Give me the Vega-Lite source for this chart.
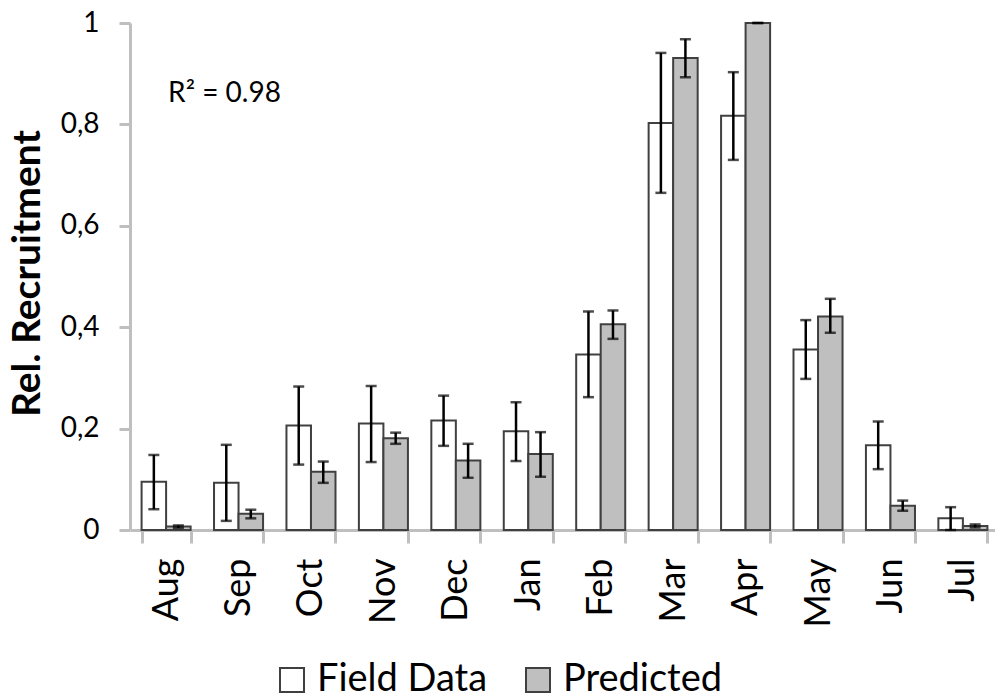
{
  "$schema": "https://vega.github.io/schema/vega-lite/v6.json",
  "autosize": "none",
  "width": 869,
  "height": 507,
  "padding": {"left": 130, "top": 23, "right": 0, "bottom": 168},
  "background": "white",
  "config": {
    "view": {"stroke": null},
    "font": "Lato",
    "axis": {"labelFont": "Lato", "titleFont": "Lato"},
    "legend": {"labelFont": "Lato"}
  },
  "datasets": {
    "bars": [
      {"month": "Aug", "series": "Field Data", "value": 0.095, "lo": 0.041, "hi": 0.148},
      {"month": "Aug", "series": "Predicted", "value": 0.007, "lo": 0.004, "hi": 0.009},
      {"month": "Sep", "series": "Field Data", "value": 0.093, "lo": 0.018, "hi": 0.168},
      {"month": "Sep", "series": "Predicted", "value": 0.032, "lo": 0.023, "hi": 0.040},
      {"month": "Oct", "series": "Field Data", "value": 0.206, "lo": 0.129, "hi": 0.283},
      {"month": "Oct", "series": "Predicted", "value": 0.115, "lo": 0.093, "hi": 0.135},
      {"month": "Nov", "series": "Field Data", "value": 0.210, "lo": 0.134, "hi": 0.284},
      {"month": "Nov", "series": "Predicted", "value": 0.181, "lo": 0.170, "hi": 0.192},
      {"month": "Dec", "series": "Field Data", "value": 0.216, "lo": 0.166, "hi": 0.265},
      {"month": "Dec", "series": "Predicted", "value": 0.137, "lo": 0.103, "hi": 0.170},
      {"month": "Jan", "series": "Field Data", "value": 0.195, "lo": 0.136, "hi": 0.252},
      {"month": "Jan", "series": "Predicted", "value": 0.150, "lo": 0.105, "hi": 0.193},
      {"month": "Feb", "series": "Field Data", "value": 0.346, "lo": 0.262, "hi": 0.431},
      {"month": "Feb", "series": "Predicted", "value": 0.406, "lo": 0.377, "hi": 0.433},
      {"month": "Mar", "series": "Field Data", "value": 0.803, "lo": 0.665, "hi": 0.941},
      {"month": "Mar", "series": "Predicted", "value": 0.931, "lo": 0.893, "hi": 0.968},
      {"month": "Apr", "series": "Field Data", "value": 0.817, "lo": 0.730, "hi": 0.903},
      {"month": "Apr", "series": "Predicted", "value": 1.0, "lo": 1.0, "hi": 1.0},
      {"month": "May", "series": "Field Data", "value": 0.356, "lo": 0.298, "hi": 0.414},
      {"month": "May", "series": "Predicted", "value": 0.421, "lo": 0.389, "hi": 0.456},
      {"month": "Jun", "series": "Field Data", "value": 0.167, "lo": 0.120, "hi": 0.214},
      {"month": "Jun", "series": "Predicted", "value": 0.048, "lo": 0.038, "hi": 0.058},
      {"month": "Jul", "series": "Field Data", "value": 0.023, "lo": 0.0, "hi": 0.045},
      {"month": "Jul", "series": "Predicted", "value": 0.008, "lo": 0.005, "hi": 0.011}
    ],
    "note": [
      {"month": "Aug", "y": 0.844, "label": "R² = 0.98"}
    ]
  },
  "layer": [
    {
      "data": {"name": "bars"},
      "mark": {"type": "bar", "stroke": "#404040", "strokeWidth": 2},
      "encoding": {
        "x": {
          "field": "month", "type": "nominal",
          "sort": ["Aug", "Sep", "Oct", "Nov", "Dec", "Jan", "Feb", "Mar", "Apr", "May", "Jun", "Jul"],
          "scale": {"paddingInner": 0.323, "paddingOuter": 0.16},
          "axis": {
            "title": null,
            "tickBand": "extent",
            "domainColor": "#BFBFBF", "domainWidth": 3,
            "tickColor": "#BFBFBF", "tickWidth": 3, "tickSize": 13,
            "labelAngle": 270, "labelAlign": "right", "labelBaseline": "middle",
            "labelFontSize": 36, "labelColor": "black", "labelPadding": 15
          }
        },
        "xOffset": {
          "field": "series", "type": "nominal",
          "sort": ["Field Data", "Predicted"],
          "scale": {"paddingInner": 0, "paddingOuter": 0}
        },
        "y": {
          "field": "value", "type": "quantitative",
          "scale": {"domain": [0, 1], "nice": false},
          "axis": {
            "title": "Rel. Recruitment",
            "values": [0, 0.2, 0.4, 0.6, 0.8, 1],
            "labelExpr": "replace(toString(datum.value), '.', ',')",
            "grid": false,
            "domainColor": "#BFBFBF", "domainWidth": 3,
            "tickColor": "#BFBFBF", "tickWidth": 3, "tickSize": 11,
            "labelFontSize": 28, "labelColor": "black", "labelPadding": 20,
            "titleFontSize": 39, "titleFontWeight": "bold", "titleColor": "black",
            "titleAngle": 270, "titleBaseline": "middle",
            "titleX": -103, "titleY": 250
          }
        },
        "fill": {
          "field": "series", "type": "nominal",
          "scale": {"domain": ["Field Data", "Predicted"], "range": ["white", "#BFBFBF"]},
          "legend": {
            "title": null,
            "orient": "none",
            "direction": "horizontal",
            "legendX": 143,
            "legendY": 638,
            "symbolType": "square",
            "symbolSize": 576,
            "symbolStrokeColor": "#404040",
            "symbolStrokeWidth": 2,
            "labelFontSize": 38,
            "labelLimit": 0,
            "labelColor": "black",
            "labelOffset": 6,
            "columnPadding": 31,
            "padding": 0
          }
        }
      }
    },
    {
      "data": {"name": "bars"},
      "mark": {"type": "rule", "color": "black", "strokeWidth": 2.5},
      "encoding": {
        "x": {"field": "month", "type": "nominal", "sort": ["Aug", "Sep", "Oct", "Nov", "Dec", "Jan", "Feb", "Mar", "Apr", "May", "Jun", "Jul"]},
        "xOffset": {"field": "series", "type": "nominal", "sort": ["Field Data", "Predicted"]},
        "y": {"field": "lo", "type": "quantitative"},
        "y2": {"field": "hi"}
      }
    },
    {
      "data": {"name": "bars"},
      "mark": {"type": "tick", "color": "black", "thickness": 2.5, "size": 11},
      "encoding": {
        "x": {"field": "month", "type": "nominal", "sort": ["Aug", "Sep", "Oct", "Nov", "Dec", "Jan", "Feb", "Mar", "Apr", "May", "Jun", "Jul"]},
        "xOffset": {"field": "series", "type": "nominal", "sort": ["Field Data", "Predicted"]},
        "y": {"field": "lo", "type": "quantitative"}
      }
    },
    {
      "data": {"name": "bars"},
      "mark": {"type": "tick", "color": "black", "thickness": 2.5, "size": 11},
      "encoding": {
        "x": {"field": "month", "type": "nominal", "sort": ["Aug", "Sep", "Oct", "Nov", "Dec", "Jan", "Feb", "Mar", "Apr", "May", "Jun", "Jul"]},
        "xOffset": {"field": "series", "type": "nominal", "sort": ["Field Data", "Predicted"]},
        "y": {"field": "hi", "type": "quantitative"}
      }
    },
    {
      "data": {"name": "note"},
      "mark": {"type": "text", "align": "left", "baseline": "alphabetic", "fontSize": 28, "font": "Lato", "color": "black", "dx": 2},
      "encoding": {
        "x": {"field": "month", "type": "nominal", "sort": ["Aug", "Sep", "Oct", "Nov", "Dec", "Jan", "Feb", "Mar", "Apr", "May", "Jun", "Jul"]},
        "y": {"field": "y", "type": "quantitative"},
        "text": {"field": "label"}
      }
    }
  ]
}
